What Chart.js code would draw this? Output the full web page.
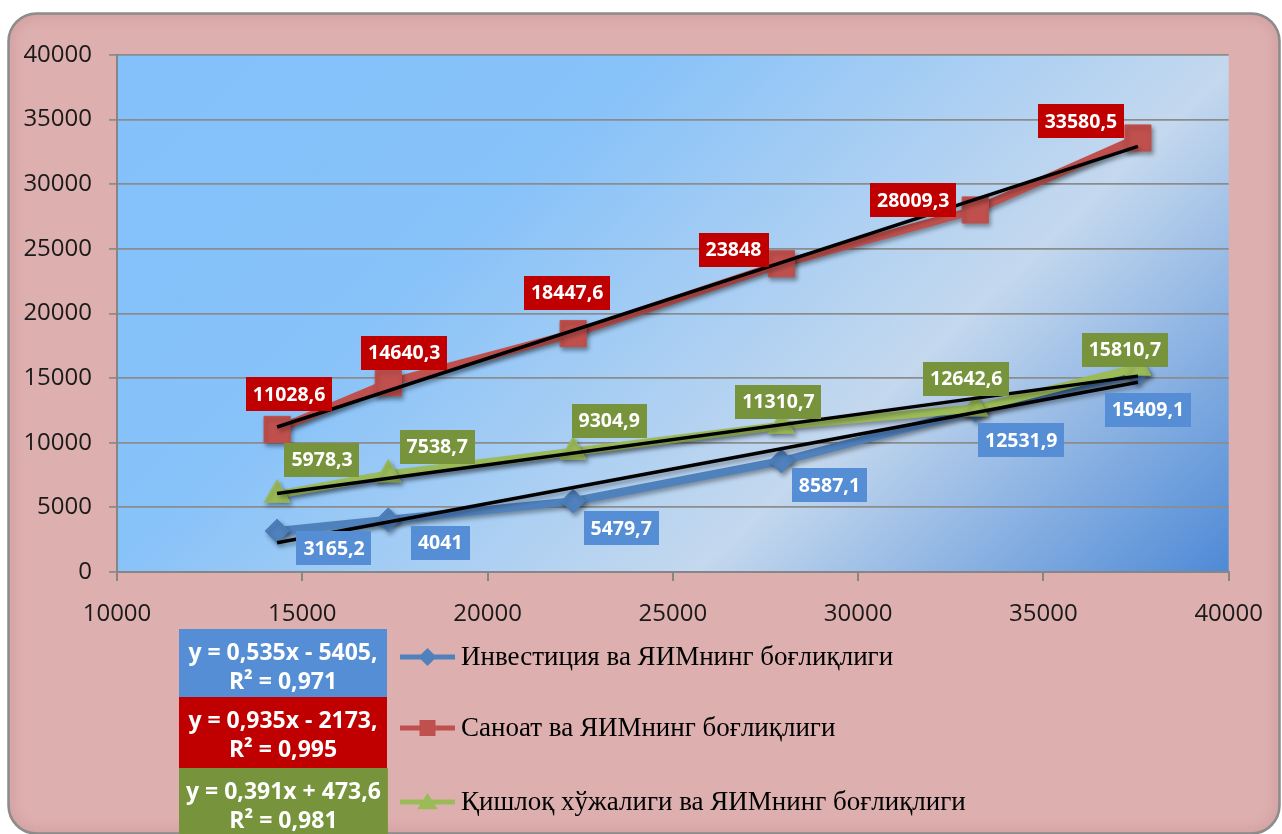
<!DOCTYPE html>
<html>
<head>
<meta charset="utf-8">
<script src="https://cdn.jsdelivr.net/npm/chart.js@4.4.1/dist/chart.umd.min.js"></script>
<style>
    html, body { margin: 0; padding: 0; background: #ffffff; }
    #wrap { width: 1282px; height: 834px; position: relative; }
</style>
</head>
<body>
<div id="wrap"><canvas id="ChartYaim" width="1282" height="834"></canvas></div>
<script>
// ЯИМ (x) ва тармоқлар (y)
const yaimX = [14320, 17320, 22310, 27930, 33160, 37550];
const investitsiya = [3165.2, 4041, 5479.7, 8587.1, 12531.9, 15409.1];
const sanoat = [11028.6, 14640.3, 18447.6, 23848, 28009.3, 33580.5];
const qishloq = [5978.3, 7538.7, 9304.9, 11310.7, 12642.6, 15810.7];

const seriesNames = [
    'Инвестиция ва ЯИМнинг боғлиқлиги',
    'Саноат ва ЯИМнинг боғлиқлиги',
    'Қишлоқ хўжалиги ва ЯИМнинг боғлиқлиги'
];

// trend lines
const trendSlope = [0.535, 0.935, 0.391];
const trendIntercept = [-5405, -2173, 473.6];
const eqLine1 = ['y = 0,535x - 5405,', 'y = 0,935x - 2173,', 'y = 0,391x + 473,6'];
const eqLine2 = ['R² = 0,971', 'R² = 0,995', 'R² = 0,981'];

// where each data label sits, relative to its point (px)
const labelShift = [
    [[57, 17], [52, 23], [48, 27], [48, 24], [46, 30], [10, 37]],
    [[12, -35], [16, -30], [-6, -41], [-48, -14], [-62, -10], [-57, -17]],
    [[45, -35], [49, -28], [36, -31], [-3, -24], [-9, -30], [-13, -18]]
];

const lineColors = ['#4F81BD', '#C0504D', '#9BBB59'];
const labelColors = ['#558ED5', '#C00000', '#77933C'];
const pointStyles = ['rectRot', 'rect', 'triangle'];
const pointSizes = [12, 18.5, 15];

const toPoints = (ys) => ys.map((y, i) => ({ x: yaimX[i], y: y }));
const fmt = (v) => String(v).replace('.', ',');

const trendData = (k) => {
    const x0 = yaimX[0];
    const x1 = yaimX[yaimX.length - 1];
    return [
        { x: x0, y: trendSlope[k] * x0 + trendIntercept[k] },
        { x: x1, y: trendSlope[k] * x1 + trendIntercept[k] }
    ];
};

const seriesValues = [investitsiya, sanoat, qishloq];

const bgPlugin = {
    id: 'bgPlugin',
    beforeDraw(chart) {
        const ctx = chart.ctx;
        ctx.save();
        ctx.fillStyle = '#ffffff';
        ctx.fillRect(0, 0, chart.width, chart.height);

        ctx.beginPath();
        ctx.roundRect(8.5, 13.5, 1271, 820, 28);
        ctx.fillStyle = '#DEAFAF';
        ctx.fill();

        ctx.save();
        ctx.clip();
        ctx.shadowColor = 'rgba(150, 85, 85, 0.55)';
        ctx.shadowBlur = 12;
        ctx.lineWidth = 3;
        ctx.strokeStyle = '#c89a9a';
        ctx.stroke();
        ctx.restore();

        ctx.lineWidth = 2.5;
        ctx.strokeStyle = '#8c8c8c';
        ctx.stroke();

        const a = chart.chartArea;
        const len = (a.right - a.left) * 0.686 + (a.bottom - a.top) * 0.727;
        const g = ctx.createLinearGradient(a.left, a.top, a.left + len * 0.686, a.top + len * 0.727);
        g.addColorStop(0, '#84C1FB');
        g.addColorStop(0.32, '#87C2F9');
        g.addColorStop(0.68, '#C4D8EE');
        g.addColorStop(1, '#4F8AD6');
        ctx.fillStyle = g;
        ctx.fillRect(a.left, a.top, a.right - a.left, a.bottom - a.top);
        ctx.restore();
    }
};

const shadowPlugin = {
    id: 'shadowPlugin',
    beforeDatasetDraw(chart) {
        const ctx = chart.ctx;
        ctx.save();
        ctx.shadowColor = 'rgba(0, 0, 0, 0.35)';
        ctx.shadowBlur = 4;
        ctx.shadowOffsetX = 2;
        ctx.shadowOffsetY = 3;
    },
    afterDatasetDraw(chart) {
        chart.ctx.restore();
    }
};

const labelPlugin = {
    id: 'labelPlugin',
    afterDatasetsDraw(chart) {
        const ctx = chart.ctx;
        ctx.save();
        ctx.font = 'bold 19.5px "Open Sans"';
        ctx.textAlign = 'center';
        ctx.textBaseline = 'middle';
        seriesValues.forEach((vals, s) => {
            const meta = chart.getDatasetMeta(s);
            vals.forEach((v, j) => {
                const p = meta.data[j];
                const cx = p.x + labelShift[s][j][0];
                const cy = p.y + labelShift[s][j][1];
                const txt = fmt(v);
                const w = ctx.measureText(txt).width + 14;
                const h = 34;
                ctx.fillStyle = labelColors[s];
                ctx.fillRect(Math.round(cx - w / 2), Math.round(cy - h / 2), Math.round(w), h);
                ctx.fillStyle = '#ffffff';
                ctx.fillText(txt, cx, cy + 1);
            });
        });
        ctx.restore();
    }
};

const drawMarker = (ctx, style, x, y, r, color) => {
    ctx.beginPath();
    if (style === 'rectRot') {
        ctx.moveTo(x - r, y);
        ctx.lineTo(x, y - r);
        ctx.lineTo(x + r, y);
        ctx.lineTo(x, y + r);
    } else if (style === 'rect') {
        ctx.rect(x - r, y - r, 2 * r, 2 * r);
    } else {
        ctx.moveTo(x, y - r);
        ctx.lineTo(x + r * 1.15, y + r * 0.8);
        ctx.lineTo(x - r * 1.15, y + r * 0.8);
    }
    ctx.closePath();
    ctx.fillStyle = color;
    ctx.fill();
};

const legendPlugin = {
    id: 'legendPlugin',
    afterDraw(chart) {
        const ctx = chart.ctx;
        ctx.save();

        // equation boxes
        const boxTop = [629, 697, 768];
        const boxH = [68, 71, 70];
        ctx.font = 'bold 23px "Open Sans"';
        ctx.textAlign = 'center';
        ctx.textBaseline = 'middle';
        for (let k = 0; k < 3; k++) {
            const tw = Math.max(ctx.measureText(eqLine1[k]).width, ctx.measureText(eqLine2[k]).width);
            const w = Math.max(208, tw + 14);
            ctx.fillStyle = labelColors[k];
            ctx.fillRect(179, boxTop[k], w, boxH[k]);
            ctx.fillStyle = '#ffffff';
            ctx.fillText(eqLine1[k], 179 + w / 2, boxTop[k] + 24);
            ctx.fillText(eqLine2[k], 179 + w / 2, boxTop[k] + 53);
        }

        // legend entries
        const rowY = [657, 728, 802];
        const markR = [9, 8, 9];
        ctx.font = '27px "Liberation Serif"';
        ctx.textAlign = 'left';
        for (let k = 0; k < 3; k++) {
            ctx.strokeStyle = lineColors[k];
            ctx.lineWidth = 5;
            ctx.beginPath();
            ctx.moveTo(400, rowY[k]);
            ctx.lineTo(455, rowY[k]);
            ctx.stroke();
            drawMarker(ctx, pointStyles[k], 427.5, rowY[k], markR[k], lineColors[k]);
            ctx.fillStyle = '#000000';
            ctx.fillText(seriesNames[k], 461, rowY[k] + 1);
        }
        ctx.restore();
    }
};

const tickFont = { family: '"Open Sans"', size: 24 };

const datasets = [];
seriesValues.forEach((vals, s) => {
    datasets.push({
        label: seriesNames[s],
        data: toPoints(vals),
        showLine: true,
        borderColor: lineColors[s],
        backgroundColor: lineColors[s],
        borderWidth: 8,
        pointStyle: pointStyles[s],
        pointRadius: pointSizes[s],
        pointBorderWidth: 1,
        pointBackgroundColor: lineColors[s],
        pointBorderColor: lineColors[s],
        order: 3 - s
    });
});
for (let k = 0; k < 3; k++) {
    datasets.push({
        label: 'trend' + k,
        data: trendData(k),
        showLine: true,
        borderColor: '#000000',
        borderWidth: 3.5,
        pointRadius: 0,
        order: 0
    });
}

const ctxYaim = document.getElementById('ChartYaim');
const ChartYaim = new Chart(ctxYaim, {
    type: 'scatter',
    data: { datasets: datasets },
    options: {
        responsive: false,
        animation: false,
        layout: { padding: { left: 0, top: 55, right: 45, bottom: 200 } },
        plugins: {
            legend: { display: false },
            tooltip: { enabled: false }
        },
        scales: {
            x: {
                type: 'linear',
                min: 10000,
                max: 40000,
                afterFit: (scale) => { scale.height = 62; },
                ticks: {
                    stepSize: 5000,
                    autoSkip: false,
                    maxRotation: 0,
                    padding: 19,
                    color: '#1a1a1a',
                    font: tickFont,
                    callback: (v) => String(v)
                },
                grid: {
                    drawOnChartArea: false,
                    drawTicks: true,
                    tickLength: 9,
                    color: '#868686',
                    lineWidth: 2
                },
                border: { color: '#868686', width: 2 }
            },
            y: {
                min: 0,
                max: 40000,
                afterFit: (scale) => { scale.width = 117; },
                ticks: {
                    stepSize: 5000,
                    padding: 17,
                    color: '#1a1a1a',
                    font: tickFont,
                    callback: (v) => String(v)
                },
                grid: {
                    color: '#8c8c8c',
                    lineWidth: 1.8,
                    tickLength: 8
                },
                border: { color: '#868686', width: 2 }
            }
        }
    },
    plugins: [bgPlugin, shadowPlugin, labelPlugin, legendPlugin]
});
</script>
</body>
</html>
